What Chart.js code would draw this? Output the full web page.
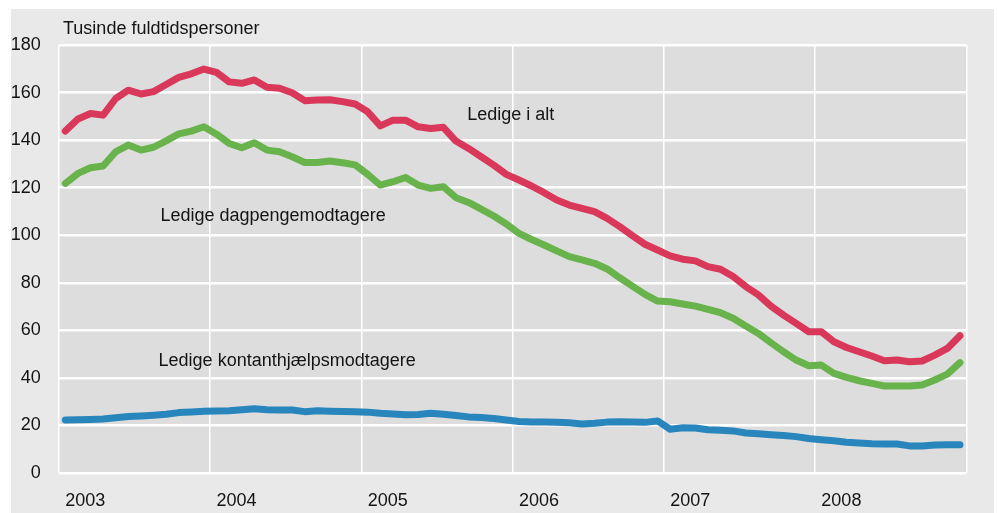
<!DOCTYPE html>
<html>
<head>
<meta charset="utf-8">
<script src="https://cdn.jsdelivr.net/npm/chart.js@4"></script>
<style>
  html, body { margin: 0; padding: 0; background: #ffffff; }
  body { width: 998px; height: 513px; position: relative; overflow: hidden; }
  #wrap { position: absolute; left: 11px; top: 9px; width: 983px; height: 504px; background: #e9e9e9; }
  canvas { display: block; }
</style>
</head>
<body>
<div id="wrap"><canvas id="c" width="983" height="504"></canvas></div>
<script>
// ---- Data (thousands of full-time persons, monthly Jan 2003 - Dec 2008) ----
const years = ['2003', '2004', '2005', '2006', '2007', '2008'];
const months = ['01','02','03','04','05','06','07','08','09','10','11','12'];
const categories = years.flatMap(y => months.map(m => y + '-' + m));

const yTicks = [0, 20, 40, 60, 80, 100, 120, 140, 160, 180];

const ledigeIAlt = [
  143.8, 148.9, 151.2, 150.5, 157.5, 161.0, 159.4, 160.4, 163.4, 166.4, 167.9, 169.9,
  168.5, 164.5, 163.9, 165.3, 162.2, 161.8, 159.9, 156.6, 156.9, 157.0, 156.2, 155.2,
  151.9, 146.0, 148.4, 148.4, 145.6, 144.9, 145.4, 139.6, 136.5, 133.0, 129.5, 125.6,
  123.2, 120.7, 117.9, 114.8, 112.7, 111.3, 109.9, 107.1, 103.6, 99.8, 96.2, 93.8,
  91.3, 89.9, 89.2, 86.8, 85.7, 82.6, 78.4, 74.9, 70.2, 66.4, 62.9, 59.4,
  59.4, 55.2, 52.8, 51.0, 49.2, 47.2, 47.5, 46.8, 47.1, 49.6, 52.4, 57.7
];
const dagpengemodtagere = [
  121.8, 126.0, 128.4, 129.1, 135.1, 137.9, 135.8, 137.0, 139.7, 142.6, 143.8, 145.6,
  142.5, 138.6, 136.8, 138.9, 135.8, 135.1, 133.0, 130.6, 130.6, 131.2, 130.5, 129.6,
  125.6, 121.1, 122.5, 124.3, 121.1, 119.7, 120.4, 115.8, 113.8, 111.0, 108.1, 104.7,
  100.8, 98.2, 95.9, 93.4, 91.0, 89.6, 88.2, 85.8, 82.1, 78.6, 75.1, 72.3,
  72.0, 71.1, 70.2, 68.8, 67.4, 65.1, 61.8, 58.7, 54.8, 51.0, 47.5, 45.1,
  45.4, 41.9, 40.2, 38.8, 37.7, 36.6, 36.6, 36.6, 37.0, 39.1, 41.6, 46.4
];
const kontanthjaelpsmodtagere = [
  22.3, 22.4, 22.5, 22.7, 23.2, 23.8, 24.0, 24.3, 24.7, 25.4, 25.7, 26.0,
  26.1, 26.2, 26.6, 27.0, 26.6, 26.5, 26.5, 25.8, 26.2, 26.0, 25.9, 25.8,
  25.6, 25.1, 24.8, 24.5, 24.6, 25.1, 24.7, 24.2, 23.6, 23.3, 22.9, 22.3,
  21.7, 21.5, 21.4, 21.3, 21.1, 20.6, 20.9, 21.4, 21.6, 21.5, 21.3, 21.9,
  18.4, 19.0, 18.9, 18.2, 18.0, 17.7, 16.8, 16.5, 16.1, 15.8, 15.3, 14.5,
  14.0, 13.6, 12.9, 12.6, 12.3, 12.2, 12.2, 11.4, 11.4, 11.8, 11.9, 11.9
];

const unitTitle = 'Tusinde fuldtidspersoner';
// Series annotations: [text, category index of left edge, value at baseline]
const seriesLabels = [
  ['Ledige i alt', 31.9, 148.4],
  ['Ledige dagpengemodtagere', 7.55, 106.1],
  ['Ledige kontanthjælpsmodtagere', 7.4, 45.0]
];

const FONT = '"Liberation Sans", Arial, sans-serif';
const TEXT = '#141414';

const plotBg = {
  id: 'plotBg',
  beforeDraw(chart) {
    const { ctx, chartArea: a } = chart;
    ctx.save();
    ctx.fillStyle = '#dddddd';
    ctx.fillRect(a.left, a.top, a.width, a.height);
    ctx.restore();
  }
};

const textLabels = {
  id: 'textLabels',
  afterDraw(chart) {
    const { ctx, chartArea: a, scales } = chart;
    ctx.save();
    ctx.font = '18px ' + FONT;
    ctx.fillStyle = TEXT;
    ctx.textAlign = 'left';
    ctx.textBaseline = 'alphabetic';
    ctx.fillText(unitTitle, a.left + 4, a.top - 11.5);
    seriesLabels.forEach(([t, xi, v]) => {
      ctx.fillText(t, scales.x.getPixelForValue(xi), scales.y.getPixelForValue(v));
    });
    ctx.restore();
  }
};

const lineStyle = {
  borderWidth: 7,
  pointRadius: 0,
  pointHoverRadius: 0,
  tension: 0,
  borderCapStyle: 'round',
  borderJoinStyle: 'round',
  fill: false
};

new Chart(document.getElementById('c'), {
  type: 'line',
  data: {
    labels: categories,
    datasets: [
      Object.assign({ label: 'Ledige kontanthjælpsmodtagere', data: kontanthjaelpsmodtagere, borderColor: '#2886bc' }, lineStyle),
      Object.assign({ label: 'Ledige dagpengemodtagere', data: dagpengemodtagere, borderColor: '#69b34c' }, lineStyle),
      Object.assign({ label: 'Ledige i alt', data: ledigeIAlt, borderColor: '#d9385a' }, lineStyle)
    ]
  },
  options: {
    responsive: false,
    animation: false,
    events: [],
    layout: { padding: { left: -18.5, right: 27.75, top: 36, bottom: -15.6 } },
    plugins: { legend: { display: false }, tooltip: { enabled: false }, title: { display: false } },
    scales: {
      x: {
        type: 'category',
        offset: true,
        border: { display: false },
        grid: {
          offset: true,
          drawTicks: false,
          lineWidth: 1.5,
          color: ctx => (ctx.type !== 'tick' || ctx.index % 12 === 0) ? '#ffffff' : 'rgba(0,0,0,0)'
        },
        ticks: {
          autoSkip: false,
          maxRotation: 0,
          minRotation: 0,
          align: 'start',
          padding: 17,
          color: TEXT,
          font: { family: FONT, size: 18 },
          callback: function (value, index) {
            const lab = categories[index];
            return lab.endsWith('-01') ? lab.slice(0, 4) : '';
          }
        }
      },
      y: {
        min: 0,
        max: 180,
        border: { display: false },
        grid: { drawTicks: false, lineWidth: 2.5, color: '#ffffff' },
        afterBuildTicks: scale => { scale.ticks = yTicks.map(v => ({ value: v })); },
        ticks: {
          padding: 18.25,
          color: TEXT,
          font: { family: FONT, size: 18 }
        }
      }
    }
  },
  plugins: [plotBg, textLabels]
});
</script>
</body>
</html>
